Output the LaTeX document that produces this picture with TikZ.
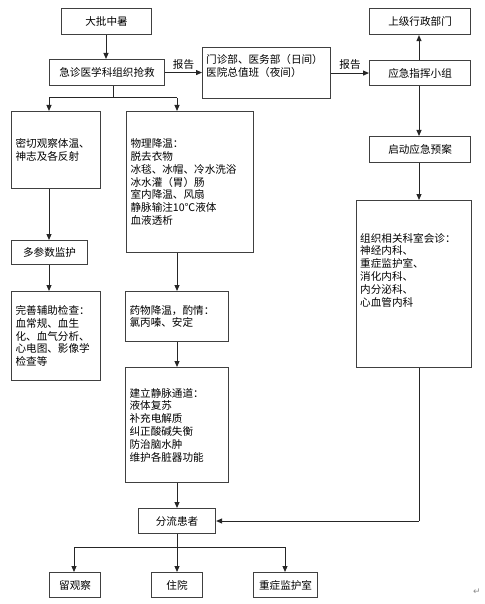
\documentclass[tikz,border=0pt]{standalone}
\usepackage{fontspec}
\setmainfont{Noto Sans CJK SC}
\newfontfamily\symfont{DejaVu Sans}
\usetikzlibrary{arrows.meta}
\tikzset{
  box/.style={draw=black!75, line width=1.1pt, anchor=north west, inner sep=0pt, align=center},
  lbox/.style={box, align=left, inner xsep=4pt},
  txt/.style={inner sep=0pt, align=left},
  conn/.style={draw=black!85, line width=1pt},
  arr/.style={conn, -{Triangle[length=6pt,width=5pt]}},
}
\begin{document}
\begin{tikzpicture}[x=1pt,y=-1pt, font=\fontsize{10.6}{12.8}\selectfont]
\useasboundingbox (0,0) rectangle (484,604);
% top row
\node[box, minimum width=90pt, minimum height=26pt] (A) at (61,8) {大批中暑};
\node[box, minimum width=115pt, minimum height=26pt] (B) at (49,59) {急诊医学科组织抢救};
\node[box, minimum width=128pt, minimum height=51pt] (C) at (202,47) {};
\node[txt, anchor=west] (Ct) at (206,66) {门诊部、医务部（日间）\\医院总值班（夜间）};
\node[box, minimum width=101pt, minimum height=25pt] (D) at (369,60) {应急指挥小组};
\node[box, minimum width=101pt, minimum height=26pt] (E) at (369,8) {上级行政部门};
\node[box, minimum width=101pt, minimum height=26pt] (F) at (369,136) {启动应急预案};
\node[box, minimum width=115pt, minimum height=167pt] (G) at (356,200) {};
\node[txt, anchor=west] (Gt) at (360,270) {组织相关科室会诊：\\神经内科、\\重症监护室、\\消化内科、\\内分泌科、\\心血管内科};
% left column
\node[lbox, text width=81pt, minimum height=77pt] (H) at (11,111) {密切观察体温、\\神志及各反射};
\node[box, minimum width=76pt, minimum height=24pt] (I) at (11,240) {多参数监护};
\node[lbox, text width=81pt, minimum height=89pt] (J) at (11,291) {完善辅助检查：\\血常规、血生\\化、血气分析、\\心电图、影像学\\检查等};
% middle column
\node[lbox, text width=119pt, minimum height=141pt] (K) at (126,111) {物理降温：\\脱去衣物\\冰毯、冰帽、冷水洗浴\\冰水灌（胃）肠\\室内降温、风扇\\静脉输注10℃液体\\血液透析};
\node[lbox, text width=95pt, minimum height=50pt] (L) at (125,291) {药物降温，酌情：\\氯丙嗪、安定};
\node[lbox, text width=95pt, minimum height=115pt] (M) at (125,367) {建立静脉通道：\\液体复苏\\补充电解质\\纠正酸碱失衡\\防治脑水肿\\维护各脏器功能};
\node[box, minimum width=77pt, minimum height=25pt] (N) at (138,508) {分流患者};
\node[box, minimum width=51pt, minimum height=25pt] (O) at (49,572) {留观察};
\node[box, minimum width=51pt, minimum height=25pt] (P) at (151,572) {住院};
\node[box, minimum width=64pt, minimum height=25pt] (Q) at (253,572) {重症监护室};
% paragraph mark
\node[inner sep=0pt, text=black!45, font=\symfont\fontsize{9}{9}\selectfont] (pm) at (477,592) {↵};
% coordinates
\coordinate (b1) at (113,98);
\coordinate (bl) at (49,98);
\coordinate (br) at (177,98);
\coordinate (g1) at (419,521);
\coordinate (n1) at (177,547);
\coordinate (nl) at (74,547);
\coordinate (nr) at (285,547);
% connectors
\draw[arr] (A.south -| 106,0) -- (B.north -| 106,0);
\draw[conn] (B.south -| b1) -- (b1);
\draw[conn] (bl) -- (br);
\draw[arr] (bl) -- (H.north -| bl);
\draw[arr] (br) -- (K.north -| br);
\draw[arr] (H.south -| 49,0) -- (I.north -| 49,0);
\draw[arr] (I.south -| 49,0) -- (J.north -| 49,0);
\draw[arr] (K.south -| 177,0) -- (L.north -| 177,0);
\draw[arr] (L.south -| 177,0) -- (M.north -| 177,0);
\draw[arr] (M.south -| 177,0) -- (N.north -| 177,0);
\draw[arr] (B.east) -- node[above=3pt, inner sep=0pt] (r1) {报告} (B.east -| C.west);
\draw[arr] (C.east |- D.west) -- node[above=3pt, inner sep=0pt] (r2) {报告} (D.west);
\draw[arr] (D.north -| 419,0) -- (E.south -| 419,0);
\draw[arr] (D.south -| 419,0) -- (F.north -| 419,0);
\draw[arr] (F.south -| 419,0) -- (G.north -| 419,0);
\draw[conn] (G.south -| g1) -- (g1);
\draw[arr] (g1) -- (N.east |- g1);
\draw[conn] (N.south -| n1) -- (n1);
\draw[conn] (nl) -- (nr);
\draw[arr] (nl) -- (O.north -| nl);
\draw[arr] (n1) -- (P.north -| n1);
\draw[arr] (nr) -- (Q.north -| nr);
\end{tikzpicture}
\end{document}
